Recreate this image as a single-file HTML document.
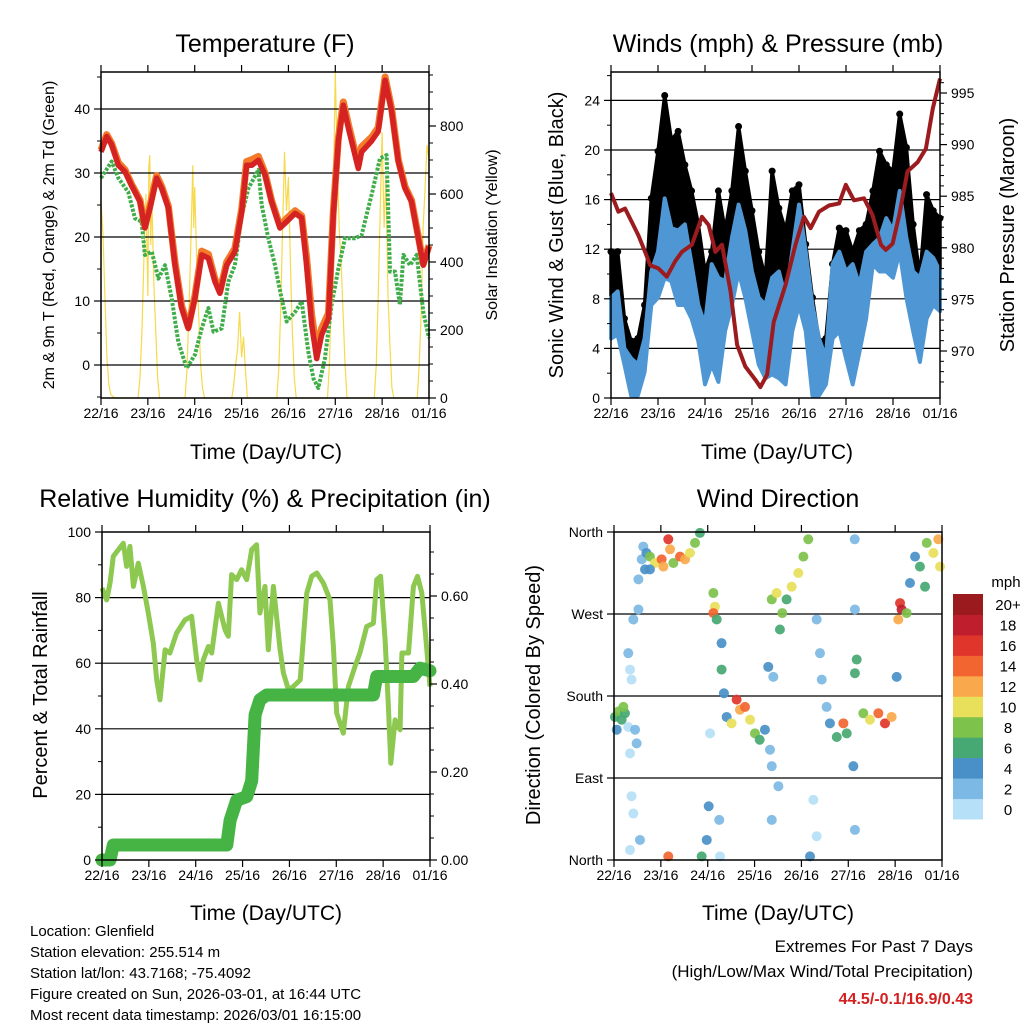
<!DOCTYPE html>
<html><head><meta charset="utf-8"><style>
html,body{margin:0;padding:0;background:#fff;}
svg{display:block;font-family:"Liberation Sans",sans-serif;}
</style></head><body>
<svg id="chart" width="1024" height="1024" viewBox="0 0 1024 1024" xmlns="http://www.w3.org/2000/svg">
<rect x="0" y="0" width="1024" height="1024" fill="#fff"/>
<text x="265" y="52" font-size="25" text-anchor="middle">Temperature (F)</text>
<text x="778" y="52" font-size="25" text-anchor="middle">Winds (mph) &amp; Pressure (mb)</text>
<text x="265" y="507" font-size="25" text-anchor="middle">Relative Humidity (%) &amp; Precipitation (in)</text>
<text x="778" y="507" font-size="25" text-anchor="middle">Wind Direction</text>
<text x="266" y="459" font-size="21" text-anchor="middle">Time (Day/UTC)</text>
<text x="777" y="459" font-size="21" text-anchor="middle">Time (Day/UTC)</text>
<text x="266" y="920" font-size="21" text-anchor="middle">Time (Day/UTC)</text>
<text x="778" y="920" font-size="21" text-anchor="middle">Time (Day/UTC)</text>
<text transform="translate(54,235) rotate(-90)" font-size="16" text-anchor="middle">2m &amp; 9m T (Red, Orange) &amp; 2m Td (Green)</text>
<text transform="translate(497,235) rotate(-90)" font-size="16" text-anchor="middle">Solar Insolation (Yellow)</text>
<text transform="translate(563,235) rotate(-90)" font-size="20" text-anchor="middle">Sonic Wind &amp; Gust (Blue, Black)</text>
<text transform="translate(1014,235) rotate(-90)" font-size="20" text-anchor="middle">Station Pressure (Maroon)</text>
<text transform="translate(47,695) rotate(-90)" font-size="20" text-anchor="middle">Percent &amp; Total Rainfall</text>
<text transform="translate(540,695) rotate(-90)" font-size="20" text-anchor="middle">Direction (Colored By Speed)</text>
<g font-size="15">
<text x="30" y="936">Location: Glenfield</text>
<text x="30" y="957">Station elevation: 255.514 m</text>
<text x="30" y="978">Station lat/lon: 43.7168; -75.4092</text>
<text x="30" y="999">Figure created on Sun, 2026-03-01, at 16:44 UTC</text>
<text x="30" y="1020">Most recent data timestamp: 2026/03/01 16:15:00</text>
</g>
<g text-anchor="end">
<text x="973" y="952" font-size="17">Extremes For Past 7 Days</text>
<text x="973" y="977" font-size="17">(High/Low/Max Wind/Total Precipitation)</text>
<text x="973" y="1004" font-size="16" font-weight="bold" fill="#d42020">44.5/-0.1/16.9/0.43</text>
</g>
<g id="layer"></g>
</svg>
<script>
const dayLabels=['22/16','23/16','24/16','25/16','26/16','27/16','28/16','01/16'];
const tempTimes=[0,2.9,5.5,8.9,12.3,15.7,20,22.5,25.1,28.5,31.1,34.5,37.9,41.3,44.7,48.1,51.6,55,58.4,60.9,64.4,68.6,72.1,74.6,77.2,80.6,84,87.4,91.7,95.1,99.4,102.8,105.3,107.9,110.5,113,116.5,119,121.6,124.1,126.7,131.8,133.5,138.6,142,145.5,148.9,152.3,155.7,159.1,162.5,165.1,168];
const tempVals=[33.3,35.7,34.4,31.2,30.2,28,25.5,21.4,24.5,29.2,27.6,24.5,15.6,8.9,5.7,10.4,17.2,16.7,13,11.2,15.6,17.7,24,31.2,31.2,32,29.7,25.5,21.4,22.4,23.7,23,15.6,6.3,1,4.7,7.3,23.4,35,40.6,37,30.7,33.3,35,36.5,44.5,39.6,31.8,27.6,25.5,19.8,15.6,18.5];
const temp9Offsets=[0.3,0.3,0.2,0.4,0.3,0.2,0.3,0.2,0.4,0.4,0.3,0.3,0.5,0.4,0.2,0.4,0.6,0.6,0.4,0.3,0.5,0.5,0.5,0.6,0.9,0.6,0.3,0.2,0.3,0.5,0.4,0.3,1.2,1.5,1.2,1.0,0.8,0.6,0.5,0.5,0.6,0.5,0.8,0.6,0.6,0.5,0.4,0.3,0.3,0.2,0.3,0.2,0.2];
const dewTimes=[0,5.5,8.9,14,17.4,20.8,22.5,26,29.4,32.8,36.2,39.6,43.9,48.1,51.6,55,57.6,61.8,65.2,68.6,72.1,75.5,80.6,82.3,85.7,89.1,92.5,95.1,99.4,102.8,106.2,108.8,111.3,114.7,118.1,121.6,125,130.1,133.5,138.6,142.9,146.3,148,150.6,153.1,154.9,158.3,161.7,165.1,168];
const dewVals=[29.2,31.8,29.2,27,22.9,22.4,17.2,17.7,13.5,15.6,10.4,3.6,-0.5,1.6,5.7,8.9,5.2,5.7,13,15.6,23.4,27.6,30.5,25,19.8,15.6,10.4,6.8,8.3,9.9,2.1,-2.1,-3.6,1,9.4,15.1,19.8,19.8,20.3,26.6,32.3,32.8,14.6,14.6,9.4,17.2,15.6,17.2,8.3,4.2];
const solarTimes=[0,1,2,3,4,5,7,19,20,21,22,23,24,24.5,25,25.5,26,27,28,29,30,43,44,45,46,47,47.5,48,49,50,51,52,53,67,68,69,70,71,72,73,74,75,90,91,92,93,94,95,96,97,98,99,100,116,117,118,119,120,121,122,123,124,125,126,140,141,142,143,144,145,146,147,148,149,150,162,163,164,165,166,167,168];
const solarVals=[580,480,300,120,40,10,0,0,60,200,420,600,300,680,714,450,600,350,200,60,0,0,80,250,450,685,500,620,400,250,100,30,0,0,40,100,150,253,120,180,80,0,0,80,250,500,724,550,650,400,200,60,0,0,100,300,600,960,700,500,400,250,100,0,0,100,300,550,782,500,650,300,150,30,0,0,100,250,500,620,744,700];
const windTimesStart=0, windTimesEnd=168;
const windHi=[8.1,8.6,4,3.2,2.7,4.8,10.2,11.8,16.1,13.7,13.5,14,10.8,7.5,5.9,10.8,9.7,9.4,12.9,15.6,13.5,10.2,8.1,7.5,9.7,10.2,8.1,11.8,15.6,11.8,7.5,4.8,3.2,10.8,11.8,10.2,10.8,9.1,11.8,12.4,12.9,14.5,13.5,16.7,12.9,10.2,9.7,11.8,11.3,10.2];
const windLo=[4.8,5.1,2.7,0.2,0.2,2.1,7.5,8.1,9.7,9.4,7.5,7.5,6.4,4.6,1.1,2.7,1.3,5.4,7.5,10.2,8.1,5.4,2.7,1.6,1.9,1.6,1.1,5.4,7.5,5.4,0.2,0.2,1.1,4.8,5.4,3.2,1.1,3.7,6.4,10.8,10.2,10.2,9.7,11.8,8.1,5.4,2.9,6.4,7.5,7];
const gustVals=[11.8,11.8,6.4,4.6,4.8,7.5,16.1,19.9,24.4,20.8,21.5,18.8,16.7,14,10.2,11.8,16.7,13.5,16.7,21.9,18.3,15.1,11.8,9.7,18.3,15.3,13.5,16.7,17.2,12.4,8.1,4.6,4.8,10.8,13.7,13.5,11.8,13.5,14,16.7,19.9,18.8,18.3,22.9,20.2,14,9.7,16.4,15.1,14.5];
const presTimes=[0,3.8,7.2,10.6,14,17.4,20,24.2,28.5,32.8,36.2,41.3,46.4,49.9,53.3,56.7,61,64.4,68.6,73.8,76.3,79.7,83.1,89.1,94.2,98.5,101.9,106.2,111.3,116.5,119.9,124.1,129.2,133.5,137.8,140.3,143.8,147.2,151.4,156.6,160.8,164.3,168];
const presVals=[985.3,983.5,983.8,982.5,981.2,979.6,978.3,978,977.2,978.7,979.6,980.3,983,982.2,979.6,980.3,975.8,970.6,968.5,967.2,966.5,967.7,972.8,976.4,980.3,983,981.9,983.5,984.1,984.3,986.1,984.6,984.8,983.2,980.3,979.8,980.4,983.2,987.4,988.3,989.6,993.5,996.4];
const rhTimes=[0,2.4,4.1,5.8,8.4,10.9,12.6,14.3,16.1,18.6,21.2,23.7,26.3,28,29.7,32.3,34.8,38.2,42.5,45.9,48.5,50.2,51.9,54.5,56.2,59.6,63,64.7,66.4,69,71.5,74.1,76.7,79.2,80.9,83.5,85.2,87.8,91.2,92.9,95.5,98,101.5,104.9,107.4,110,113.4,116.8,118.5,120.2,123.6,126.2,129.6,132.1,135.6,139,140.7,142.7,145,146.7,147.9,150.1,152.7,153.6,157,159.5,161.6,163.8,165.5,168];
const rhVals=[82.9,79.3,84.4,92.6,94.6,96.6,89.5,95.6,83.4,90.5,83.4,75.3,66.1,54.9,48.8,64.1,63.1,69.2,73.2,74.3,61,54.9,61,65.1,63.1,78.3,70.2,68.2,87,85.5,88.5,85.5,94.6,96.1,75.3,83.4,64.1,83.4,64.1,57,51.9,52.9,54.9,81.4,86.5,87.5,84.4,79.3,65.1,44.8,38.7,52.9,59,63.1,71.2,72.2,85.5,86.5,67.1,46.8,29.5,42.7,39.7,63.1,63.1,83.4,86.5,81.4,70.2,52.9];
const precTimes=[0,4.1,5.8,63.9,65.6,69,74.1,76.7,78.4,80.9,84.3,139,140.7,159.5,162.9,168];
const precVals=[0,0,0.034,0.034,0.09,0.136,0.144,0.18,0.33,0.364,0.375,0.375,0.417,0.417,0.436,0.43];
const dirTimes=[0.5,2.2,3.9,5.6,1.4,4.8,7.3,8.2,9,7.3,10.8,11.6,8.2,9.9,12.5,12.5,14.2,15,16.6,15.9,18.4,21,24.4,25.3,27.8,28.7,30.4,33.8,36.4,38.9,41.5,44,18.4,9,9.9,13.3,8.2,27.8,44.9,47.5,48.5,53.9,54.3,49.2,50.9,51.7,50.9,52.6,55.1,55.1,56.3,57.7,60.2,62.8,64.5,67.1,69.7,72.2,74.6,77.3,79.9,80.8,84.2,80.8,79,81.6,80.8,83.3,86.2,85,88.4,91,94.4,97,99.5,100.4,102.1,103.8,103.8,105.5,106.4,108.9,110.6,114.1,117.5,119.2,122.6,123.4,124.3,123.3,123.4,127.7,131.1,135.4,138.8,142.2,123.4,144.8,146.5,147.3,145.6,149.9,151.6,154.2,156.7,159.3,160.2,163.6,166.1,167];
const dirVals=[157,163,154,161,143,168,227,209,198,146,143,128,117,264,275,308,330,344,337,319,333,326,330,322,352,341,326,333,330,337,348,359,319,70,51,22,11,4,4,22,59,44,4,139,293,278,271,264,238,209,183,157,150,176,165,168,154,139,132,143,121,103,81,44,212,201,286,293,271,253,286,300,315,333,352,4,66,26,264,227,198,168,150,135,150,139,103,205,220,352,275,161,154,161,150,157,33,201,282,275,264,271,304,333,322,300,348,337,352,322];
const dirSpeeds=[7,8,6,7,4,8,2,1,0,1,2,2,0,2,2,2,3,3,4,4,8,10,14,12,16,12,8,14,12,10,8,6,4,0,1,2,1,14,6,4,4,2,1,1,8,10,14,6,4,6,4,4,10,16,12,14,10,8,6,4,3,2,2,3,4,2,8,10,8,6,6,10,10,8,8,4,1,1,2,2,2,2,4,6,14,6,4,6,6,3,3,8,10,14,16,12,2,4,16,18,12,8,4,4,6,6,8,10,12,10];
const speedColors=['#b6e0f7','#7cb9e4','#4a90c8','#46a872','#7dc24b','#e8e05a','#f9a94b','#f26530','#e0352b','#bf1e2d','#9a1a1e'];
const speedLabels=['0','2','4','6','8','10','12','14','16','18','20+'];

const NS='http://www.w3.org/2000/svg';
const layer=document.getElementById('layer');
function mk(tag,attrs,parent){const e=document.createElementNS(NS,tag);for(const k in attrs)e.setAttribute(k,attrs[k]);(parent||layer).appendChild(e);return e;}
function pathFrom(xs,ys){return xs.map((x,i)=>(i?'L':'M')+x.toFixed(1)+' '+ys[i].toFixed(1)).join(' ');}
const HOURS=168;
function xScale(x0,w){return h=>x0+h*w/HOURS;}

const P1={x:101,y:72,w:328,h:326};
const P2={x:611,y:72,w:329,h:326};
const P3={x:102,y:532,w:328,h:328};
const P4={x:614,y:532,w:328,h:328};
const x1=xScale(P1.x,P1.w), x2=xScale(P2.x,P2.w), x3=xScale(P3.x,P3.w), x4=xScale(P4.x,P4.w);
const yT=t=>365-t*6.4, ySol=v=>398-v*0.34;
const yW=m=>398-m*12.4, yP=p=>351-(p-970)*10.32;
const yRH=r=>860-r*3.28, yPr=v=>860-v*440;
const yD=d=>860-d*328/360;

function gridH(P,ys,name){
  ys.forEach(y=>{
    const l=mk('line',{x1:P.x,x2:P.x+P.w,y1:y,y2:y,stroke:'#000','stroke-width':1.2});
    
    
  });
}
function frame(P,name){
  const r=mk('rect',{x:P.x,y:P.y,width:P.w,height:P.h,fill:'none',stroke:'#000','stroke-width':1.5});
  
  
  const xs=xScale(P.x,P.w);
  dayLabels.forEach((lab,i)=>{
    const x=xs(i*24);
    mk('line',{x1:x,x2:x,y1:P.y+P.h,y2:P.y+P.h+7,stroke:'#000','stroke-width':1.2});
    mk('line',{x1:x,x2:x,y1:P.y,y2:P.y-7,stroke:'#000','stroke-width':1.2});
    const t=mk('text',{x:x,y:P.y+P.h+20,'font-size':14,'text-anchor':'middle'});
    t.textContent=lab;
    
    
  });
}
function yTicks(P,side,vals,scale,labels,fs,minor){
  const x=side==='l'?P.x:P.x+P.w, d=side==='l'?-1:1;
  vals.forEach((v,i)=>{
    const y=scale(v);
    mk('line',{x1:x,x2:x+d*7,y1:y,y2:y,stroke:'#000','stroke-width':1.2});
    const t=mk('text',{x:x+d*11,y:y+5,'font-size':fs,'text-anchor':side==='l'?'end':'start'});
    t.textContent=labels[i];
    
    
  });
  (minor||[]).forEach(v=>{const y=scale(v);mk('line',{x1:x,x2:x+d*4,y1:y,y2:y,stroke:'#000','stroke-width':1});});
}

// Panel 1
const solar=mk('path',{d:pathFrom(solarTimes.map(x1),solarVals.map(ySol)),fill:'none',stroke:'#f7d94c','stroke-width':1.2});


gridH(P1,[0,10,20,30,40].map(yT),'temp-gridline');
const dew=mk('path',{d:pathFrom(dewTimes.map(x1),dewVals.map(yT)),fill:'none',stroke:'#3fae49','stroke-width':4,'stroke-dasharray':'3 1.5','stroke-linejoin':'round'});


const t9=mk('path',{d:pathFrom(tempTimes.map(x1),tempVals.map((v,i)=>yT(v+temp9Offsets[i]))),fill:'none',stroke:'#f47a2a','stroke-width':7,'stroke-linejoin':'round'});


const t2=mk('path',{d:pathFrom(tempTimes.map(x1),tempVals.map(yT)),fill:'none',stroke:'#d42322','stroke-width':5.5,'stroke-linejoin':'round'});


frame(P1,'temp-plot-frame');
yTicks(P1,'l',[0,10,20,30,40],yT,['0','10','20','30','40'],14,[-5,5,15,25,35,45]);
yTicks(P1,'r',[0,200,400,600,800],ySol,['0','200','400','600','800'],14,[50,100,150,250,300,350,450,500,550,650,700,750,850,900,950]);

// Panel 2
gridH(P2,[4,8,12,16,20,24].map(yW),'wind-gridline');
const n=windHi.length;
const wT=windHi.map((_,i)=>windTimesStart+i*(windTimesEnd-windTimesStart)/(n-1));
const gx=wT.map(x2);
const gust=mk('path',{d:pathFrom(gx.concat(gx.slice().reverse()),gustVals.map(yW).concat(windHi.map(yW).reverse()))+'Z',fill:'#000',stroke:'#000','stroke-width':3.5,'stroke-linejoin':'round'});


gustVals.forEach((g,i)=>{
  const c=mk('circle',{cx:gx[i],cy:yW(g),r:3.5,fill:'#000'});
  
  
});
const wind=mk('path',{d:pathFrom(gx.concat(gx.slice().reverse()),windHi.map(yW).concat(windLo.map(yW).reverse()))+'Z',fill:'#4f97d4',stroke:'#4f97d4','stroke-width':4,'stroke-linejoin':'round'});


const pres=mk('path',{d:pathFrom(presTimes.map(x2),presVals.map(yP)),fill:'none',stroke:'#9b1b1e','stroke-width':4,'stroke-linejoin':'round'});


frame(P2,'winds-plot-frame');
yTicks(P2,'l',[0,4,8,12,16,20,24],yW,['0','4','8','12','16','20','24'],14,[2,6,10,14,18,22,26]);
yTicks(P2,'r',[970,975,980,985,990,995],yP,['970','975','980','985','990','995'],14,[967,968,969,971,972,973,974,976,977,978,979,981,982,983,984,986,987,988,989,991,992,993,994,996]);

// Panel 3
gridH(P3,[20,40,60,80].map(yRH),'humidity-gridline');
const rh=mk('path',{d:pathFrom(rhTimes.map(x3),rhVals.map(yRH)),fill:'none',stroke:'#8dc851','stroke-width':5,'stroke-linejoin':'round'});


const pr=mk('path',{d:pathFrom(precTimes.map(x3),precVals.map(yPr)),fill:'none',stroke:'#45b445','stroke-width':13,'stroke-linejoin':'round','stroke-linecap':'round'});


frame(P3,'humidity-plot-frame');
yTicks(P3,'l',[0,20,40,60,80,100],yRH,['0','20','40','60','80','100'],14,[10,30,50,70,90]);
yTicks(P3,'r',[0,0.2,0.4,0.6],yPr,['0.00','0.20','0.40','0.60'],14,[0.05,0.1,0.15,0.25,0.3,0.35,0.45,0.5,0.55,0.65,0.7]);

// Panel 4
gridH(P4,[90,180,270].map(yD),'direction-gridline');
dirTimes.forEach((h,i)=>{
  const idx=Math.min(10,Math.floor(dirSpeeds[i]/2));
  const c=mk('circle',{cx:x4(h),cy:yD(dirVals[i]),r:5,fill:speedColors[idx],'fill-opacity':0.92});
  
  
});
frame(P4,'direction-plot-frame');
yTicks(P4,'l',[0,90,180,270,360],yD,['North','East','South','West','North'],14,[]);
const cb={x:953,y:594,w:30,h:225};
speedColors.forEach((c,i)=>{
  const bh=cb.h/speedColors.length;
  const y=cb.y+cb.h-(i+1)*bh;
  const r=mk('rect',{x:cb.x,y:y,width:cb.w,height:bh+0.5,fill:c});
  
  
  const t=mk('text',{x:1008,y:y+bh/2+6,'font-size':15,'text-anchor':'middle'});
  t.textContent=speedLabels[i];
  
  
});
const mph=mk('text',{x:1006,y:587,'font-size':15,'text-anchor':'middle'});
mph.textContent='mph';


</script>
</body></html>
